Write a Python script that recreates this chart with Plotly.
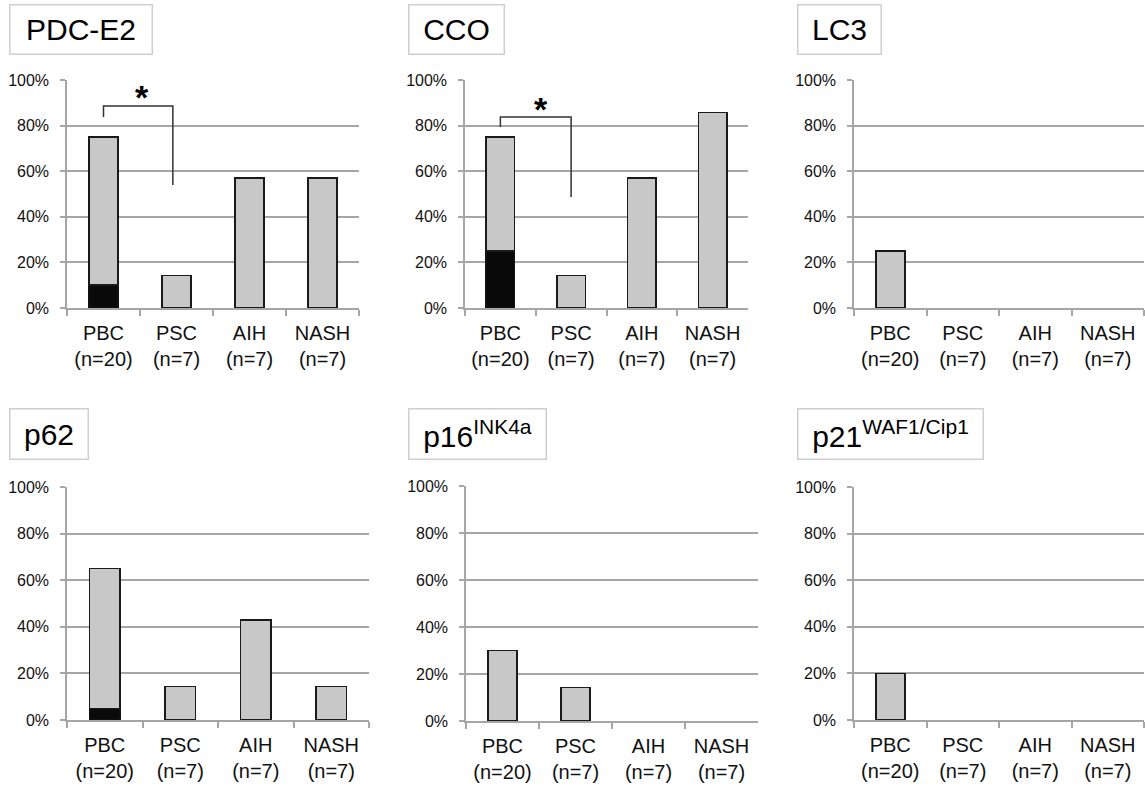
import plotly.graph_objects as go

W, H = 1145, 788
FONT = "Liberation Sans, Arial, sans-serif"

categories = ["PBC<br>(n=20)", "PSC<br>(n=7)", "AIH<br>(n=7)", "NASH<br>(n=7)"]
panel_titles = ["PDC-E2", "CCO", "LC3", "p62", "p16<sup>INK4a</sup>", "p21<sup>WAF1/Cip1</sup>"]
y_tick_values = [0, 20, 40, 60, 80, 100]
y_tick_labels = ["0%", "20%", "40%", "60%", "80%", "100%"]

# total positive rate (%) per group
pdc_total = [75.0, 14.3, 57.1, 57.1]
cco_total = [75.0, 14.3, 57.1, 85.7]
lc3_total = [25.0, 0, 0, 0]
p62_total = [65.0, 14.3, 42.9, 14.3]
p16_total = [30.0, 14.3, 0, 0]
p21_total = [20.0, 0, 0, 0]

# strongly positive portion (%) (black segment)
pdc_strong = [10.0, 0, 0, 0]
cco_strong = [25.0, 0, 0, 0]
lc3_strong = [0, 0, 0, 0]
p62_strong = [5.0, 0, 0, 0]
p16_strong = [0, 0, 0, 0]
p21_strong = [0, 0, 0, 0]

totals = [pdc_total, cco_total, lc3_total, p62_total, p16_total, p21_total]
strongs = [pdc_strong, cco_strong, lc3_strong, p62_strong, p16_strong, p21_strong]

# panel pixel boxes: (x0, x1, ytop(100%), ybottom(0%))
boxes = [
    (67, 359, 80, 308), (465, 748, 80, 308), (854, 1144, 80, 308),
    (67, 369, 487, 720), (466, 758, 486, 721), (854, 1144, 487, 720),
]
# title box pixel geometry: (x0, x1, y0, y1)
title_boxes = [
    (9, 152, 4, 54), (408, 504, 4, 54), (797, 881, 4, 54),
    (9, 88, 409, 460), (408, 546, 409, 460), (797, 983, 409, 460),
]

# significance brackets (category-index coords, % values)
brackets = {
    0: dict(x0=0, x1=0.95, ytick=83.8, ytop=88.6, yend=54.0, sx=0.53, sy=95.0),
    1: dict(x0=0, x1=1.0, ytick=79.4, ytop=83.8, yend=48.7, sx=0.57, sy=90.0),
}

fig = go.Figure()
layout = {}
GRID = "#a6a6a6"

for i in range(6):
    x0, x1, yt, yb = boxes[i]
    xa = "xaxis" if i == 0 else f"xaxis{i+1}"
    ya = "yaxis" if i == 0 else f"yaxis{i+1}"
    xr = "x" if i == 0 else f"x{i+1}"
    yr = "y" if i == 0 else f"y{i+1}"
    strong = [v if v > 0 else None for v in strongs[i]]
    rest = [(t - s) if (t - s) > 0 else None for t, s in zip(totals[i], strongs[i])]
    fig.add_trace(go.Bar(x=categories, y=strong, marker=dict(color="#0a0a0a", line=dict(color="#111111", width=1.5)),
                         width=0.4, xaxis=xr, yaxis=yr, showlegend=False, hoverinfo="skip"))
    fig.add_trace(go.Bar(x=categories, y=rest, marker=dict(color="#c8c8c8", line=dict(color="#1a1a1a", width=1.5)),
                         width=0.4, xaxis=xr, yaxis=yr, showlegend=False, hoverinfo="skip"))
    layout[xa] = dict(domain=[x0 / W, x1 / W], anchor=yr, range=[-0.5, 3.5], showline=True, linecolor=GRID,
                      linewidth=1.5, ticks="outside", tickson="boundaries", ticklen=6, tickcolor=GRID,
                      tickwidth=1.5, showgrid=False, tickfont=dict(size=20, color="#111111", family=FONT),
                      ticklabelstandoff=6, fixedrange=True, zeroline=False, automargin=False)
    layout[ya] = dict(domain=[1 - yb / H, 1 - yt / H], anchor=xr, range=[0, 100], tickmode="array",
                      tickvals=y_tick_values, ticktext=y_tick_labels,
                      showline=True, linecolor=GRID, linewidth=1.5, ticks="outside", ticklen=5,
                      tickcolor=GRID, tickwidth=1.5, showgrid=True, gridcolor=GRID, gridwidth=1.5,
                      tickfont=dict(size=16, color="#111111", family=FONT), zeroline=False, fixedrange=True,
                      ticklabelstandoff=8, automargin=False)

annotations = []
shapes = []
for i in range(6):
    bx0, bx1, by0, by1 = title_boxes[i]
    annotations.append(dict(xref="paper", yref="paper", x=(bx0 + bx1) / 2 / W, y=1 - (by0 + by1) / 2 / H,
                            xanchor="center", yanchor="middle", text=panel_titles[i], showarrow=False,
                            font=dict(size=30, color="#000000", family=FONT), bordercolor="#cfcfcf",
                            borderwidth=1.5, borderpad=0, width=bx1 - bx0 - 2, height=by1 - by0 - 2,
                            align="center", valign="middle", bgcolor="white"))

for i, b in brackets.items():
    xr = "x" if i == 0 else f"x{i+1}"
    yr = "y" if i == 0 else f"y{i+1}"
    path = f"M {b['x0']},{b['ytick']} L {b['x0']},{b['ytop']} L {b['x1']},{b['ytop']} L {b['x1']},{b['yend']}"
    shapes.append(dict(type="path", path=path, xref=xr, yref=yr, line=dict(color="#333333", width=1.5)))
    annotations.append(dict(xref=xr, yref=yr, x=b["sx"], y=b["sy"], text="<b>*</b>", showarrow=False,
                            xanchor="center", yanchor="middle", yshift=-6,
                            font=dict(size=34, color="#000000", family=FONT)))

fig.update_layout(width=W, height=H, margin=dict(l=0, r=0, t=0, b=0, autoexpand=False), paper_bgcolor="white",
                  plot_bgcolor="white", barmode="stack", annotations=annotations, shapes=shapes,
                  font=dict(family=FONT), **layout)

fig.write_html("out.html", config={"displayModeBar": False},
               post_script="document.body.style.margin='0px';document.documentElement.style.overflow='hidden';document.body.style.overflow='hidden';")
